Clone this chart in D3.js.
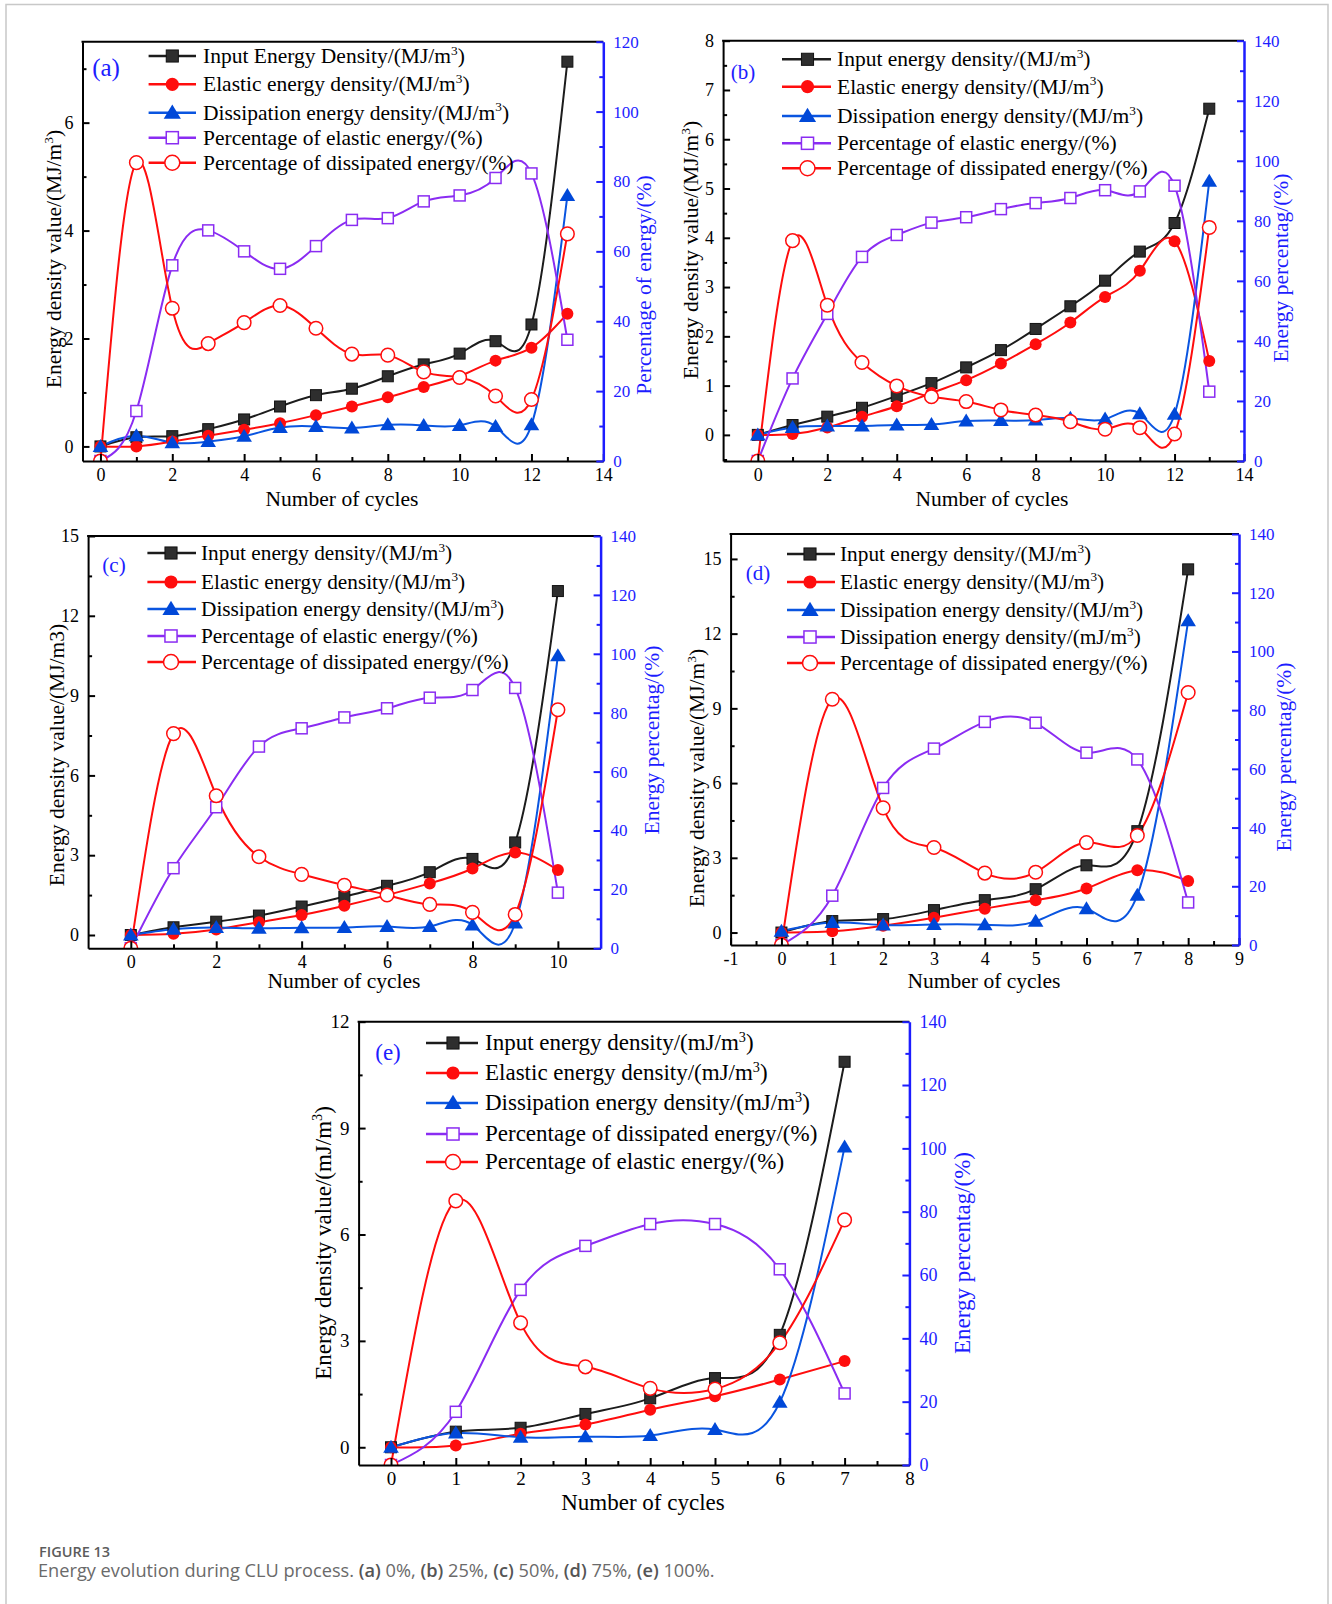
<!DOCTYPE html>
<html>
<head>
<meta charset="utf-8">
<title>Energy evolution during CLU process</title>
<script src="https://d3js.org/d3.v7.min.js"></script>
<style>
  body { margin: 0; background: #fff; }
</style>
</head>
<body>
<script>

// ---- data ----
var cyclesA = [0, 1, 2, 3, 4, 5, 6, 7, 8, 9, 10, 11, 12, 13];
var inputA = [0, 0.17, 0.19, 0.32, 0.5, 0.74, 0.95, 1.07, 1.3, 1.52, 1.72, 1.95, 2.26, 7.13];
var elasticA = [0, 0.0, 0.09, 0.2, 0.31, 0.43, 0.58, 0.74, 0.91, 1.1, 1.3, 1.59, 1.83, 2.46];
var dissA = [0, 0.2, 0.07, 0.09, 0.19, 0.35, 0.37, 0.34, 0.4, 0.39, 0.39, 0.37, 0.4, 4.65];
var pctElasticA = [0, 14.3, 56, 66, 60, 55, 61.5, 69, 69.5, 74.3, 76, 81, 82.3, 34.7];
var pctDissA = [0, 85.4, 43.7, 33.6, 39.6, 44.5, 38, 30.6, 30.3, 25.5, 23.9, 18.6, 17.6, 65];

var cyclesB = [0, 1, 2, 3, 4, 5, 6, 7, 8, 9, 10, 11, 12, 13];
var inputB = [0, 0.2, 0.37, 0.55, 0.79, 1.05, 1.37, 1.72, 2.15, 2.61, 3.13, 3.72, 4.3, 6.62];
var elasticB = [0, 0.02, 0.15, 0.37, 0.58, 0.85, 1.11, 1.45, 1.84, 2.28, 2.8, 3.33, 3.93, 1.5];
var dissB = [0, 0.15, 0.18, 0.18, 0.2, 0.21, 0.28, 0.29, 0.3, 0.34, 0.32, 0.43, 0.42, 5.15];
var pctElasticB = [0, 27.5, 49, 68, 75.3, 79.4, 81.2, 83.9, 85.9, 87.6, 90.2, 89.8, 91.7, 23.1];
var pctDissB = [0, 73.4, 51.9, 32.8, 25, 21.4, 19.8, 17, 15.3, 13.1, 10.6, 11.1, 9, 77.8];

var cyclesC = [0, 1, 2, 3, 4, 5, 6, 7, 8, 9, 10];
var inputC = [0, 0.29, 0.5, 0.73, 1.07, 1.44, 1.85, 2.36, 2.86, 3.48, 12.93];
var elasticC = [0, 0.05, 0.21, 0.48, 0.75, 1.1, 1.5, 1.94, 2.5, 3.1, 2.44];
var dissC = [0, 0.22, 0.28, 0.25, 0.27, 0.28, 0.32, 0.32, 0.38, 0.45, 10.5];
var pctElasticC = [0, 27.2, 47.9, 68.5, 74.7, 78.4, 81.5, 85.1, 87.7, 88.4, 18.9];
var pctDissC = [0, 72.9, 51.8, 31.1, 25.1, 21.4, 18.1, 14.9, 12.2, 11.5, 81];

var cyclesD = [0, 1, 2, 3, 4, 5, 6, 7, 8];
var inputD = [0, 0.46, 0.54, 0.9, 1.3, 1.74, 2.7, 4.07, 14.58];
var elasticD = [0, 0.05, 0.27, 0.59, 0.96, 1.3, 1.77, 2.5, 2.07];
var dissD = [0.05, 0.4, 0.3, 0.32, 0.31, 0.45, 0.96, 1.5, 12.52];
var pctPurpleD = [0, 16.8, 53.5, 66.9, 76, 75.7, 65.5, 63.2, 14.5];
var pctRedD = [0, 83.7, 46.7, 33.2, 24.5, 24.8, 34.9, 37.3, 86];

var cyclesE = [0, 1, 2, 3, 4, 5, 6, 7];
var inputE = [0, 0.44, 0.55, 0.94, 1.38, 1.95, 3.17, 10.87];
var elasticE = [0, 0.05, 0.38, 0.64, 1.06, 1.44, 1.91, 2.43];
var dissE = [0, 0.4, 0.28, 0.3, 0.33, 0.5, 1.27, 8.47];
var pctPurpleE = [0, 16.8, 55.3, 69.2, 76.1, 76.1, 61.8, 22.6];
var pctRedE = [0, 83.4, 44.9, 31, 24.2, 24, 38.6, 77.4];

// tick labels
var xTicksA = [0, 2, 4, 6, 8, 10, 12, 14];
var xTicksB = [0, 2, 4, 6, 8, 10, 12, 14];
var xTicksC = [0, 2, 4, 6, 8, 10];
var xTicksD = [-1, 0, 1, 2, 3, 4, 5, 6, 7, 8, 9];
var xTicksE = [0, 1, 2, 3, 4, 5, 6, 7, 8];
var yTicksA = [0, 2, 4, 6];
var yTicksB = [0, 1, 2, 3, 4, 5, 6, 7, 8];
var yTicksC = [0, 3, 6, 9, 12, 15];
var yTicksD = [0, 3, 6, 9, 12, 15];
var yTicksE = [0, 3, 6, 9, 12];
var pctTicksA = [0, 20, 40, 60, 80, 100, 120];
var pctTicks = [0, 20, 40, 60, 80, 100, 120, 140];

// legend texts
var namesA = ["Input Energy Density/(MJ/m³)", "Elastic energy density/(MJ/m³)", "Dissipation energy density/(MJ/m³)",
              "Percentage of elastic energy/(%)", "Percentage of dissipated energy/(%)"];
var namesBC = ["Input energy density/(MJ/m³)", "Elastic energy density/(MJ/m³)", "Dissipation energy density/(MJ/m³)",
               "Percentage of elastic energy/(%)", "Percentage of dissipated energy/(%)"];
var namesD = ["Input energy density/(MJ/m³)", "Elastic energy density/(MJ/m³)", "Dissipation energy density/(MJ/m³)",
              "Dissipation energy density/(mJ/m³)", "Percentage of dissipated energy/(%)"];
var namesE = ["Input energy density/(mJ/m³)", "Elastic energy density/(mJ/m³)", "Dissipation energy density/(mJ/m³)",
              "Percentage of dissipated energy/(%)", "Percentage of elastic energy/(%)"];

var BLACK = "#1c1c1c", RED = "#ff0d0d", BLUE = "#0a55e0", PURPLE = "#8a2cf2", AXBLUE = "#1d1dff";
var SERIF = "'Liberation Serif', 'Times New Roman', serif";

var styles = [
  {color: BLACK, mark: "sq", side: "L"},
  {color: RED, mark: "dot", side: "L"},
  {color: BLUE, mark: "tri", side: "L"},
  {color: PURPLE, mark: "osq", side: "R"},
  {color: RED, mark: "ocirc", side: "R"}
];

var panels = [
  {tag: "(a)", tagPos: [106, 68], tagSize: 25,
   cycles: cyclesA, vals: [inputA, elasticA, dissA, pctElasticA, pctDissA], names: namesA,
   box: {l: 82.5, r: 603.3, t: 41.7, b: 461}, xDom: [-0.5, 14], yDom: [-0.27, 7.5], pMax: 120,
   xTicks: xTicksA, yTicks: yTicksA, pTicks: pctTicksA,
   yTitle: "Energy density value/(MJ/m³)", yTitlePos: [54, 259],
   pTitle: "Percentage of energy/(%)", pTitlePos: [644, 285], xTitlePos: [342, 499],
   leg: {x0: 148.6, x1: 196, mx: 172.3, tx: 203, rows: [56, 84.3, 112.7, 137.7, 162.7], fs: 21.5}},
  {tag: "(b)", tagPos: [743, 72], tagSize: 21,
   cycles: cyclesB, vals: [inputB, elasticB, dissB, pctElasticB, pctDissB], names: namesBC,
   box: {l: 723.1, r: 1244, t: 40.7, b: 461}, xDom: [-1, 14], yDom: [-0.53, 8], pMax: 140,
   xTicks: xTicksB, yTicks: yTicksB, pTicks: pctTicks,
   yTitle: "Energy density value/(MJ/m³)", yTitlePos: [691, 250],
   pTitle: "Energy percentag/(%)", pTitlePos: [1281, 268], xTitlePos: [992, 499],
   leg: {x0: 782, x1: 831, mx: 807.5, tx: 837, rows: [59.3, 86.7, 116, 143.3, 168.3], fs: 21.5}},
  {tag: "(c)", tagPos: [114, 565], tagSize: 21,
   cycles: cyclesC, vals: [inputC, elasticC, dissC, pctElasticC, pctDissC], names: namesBC,
   box: {l: 88.1, r: 600.6, t: 536, b: 948.3}, xDom: [-1, 11], yDom: [-0.5, 15], pMax: 140,
   xTicks: xTicksC, yTicks: yTicksC, pTicks: pctTicks,
   yTitle: "Energy density value/(MJ/m3)", yTitlePos: [57, 755],
   pTitle: "Energy percentag/(%)", pTitlePos: [652, 740], xTitlePos: [344, 981],
   leg: {x0: 147.4, x1: 196, mx: 171, tx: 201, rows: [553, 582, 609, 636, 662], fs: 21.3}},
  {tag: "(d)", tagPos: [758, 573], tagSize: 21,
   cycles: cyclesD, vals: [inputD, elasticD, dissD, pctPurpleD, pctRedD], names: namesD,
   box: {l: 730.6, r: 1239, t: 534, b: 945}, xDom: [-1, 9], yDom: [-0.5, 16], pMax: 140,
   xTicks: xTicksD, yTicks: yTicksD, pTicks: pctTicks,
   yTitle: "Energy density value/(MJ/m³)", yTitlePos: [697, 778],
   pTitle: "Energy percentag/(%)", pTitlePos: [1284, 757], xTitlePos: [984, 981],
   leg: {x0: 787, x1: 835, mx: 810, tx: 840, rows: [554, 582, 610, 637, 663], fs: 21.3}},
  {tag: "(e)", tagPos: [388, 1052], tagSize: 23,
   cycles: cyclesE, vals: [inputE, elasticE, dissE, pctPurpleE, pctRedE], names: namesE,
   box: {l: 358.6, r: 909.4, t: 1021.7, b: 1465}, xDom: [-0.5, 8], yDom: [-0.5, 12], pMax: 140,
   xTicks: xTicksE, yTicks: yTicksE, pTicks: pctTicks,
   yTitle: "Energy density value/(mJ/m³)", yTitlePos: [323.5, 1243],
   pTitle: "Energy percentag/(%)", pTitlePos: [962, 1253], xTitlePos: [643, 1502],
   leg: {x0: 426, x1: 478, mx: 453, tx: 485, rows: [1043, 1073, 1103, 1134, 1162], fs: 23},
   big: true}
];

var svg = d3.select("body").append("svg")
  .attr("width", 1332)
  .attr("height", 1604);

// light frame around the figure
svg.append("path")
  .attr("d", "M6,1604 V4.5 H1328 V1604")
  .attr("fill", "none")
  .attr("stroke", "#c8c8c8")
  .attr("stroke-width", 1.5);

// text with a superscript 3
function rich(sel, str, fs) {
  var parts = str.split("³");
  parts.forEach(function(s, i) {
    if (i > 0) sel.append("tspan").attr("dy", -0.38 * fs).attr("font-size", fs * 0.62).text("3");
    var t = sel.append("tspan").text(s);
    if (i > 0) t.attr("dy", 0.38 * fs);
  });
}

function drawMark(g, kind, color, cx, cy, k) {
  k = k || 1;
  if (kind == "sq") {
    g.append("rect").attr("x", cx - 5.5 * k).attr("y", cy - 5.5 * k)
      .attr("width", 11 * k).attr("height", 11 * k)
      .attr("fill", "#2e2e2e").attr("stroke", "#111").attr("stroke-width", 1);
  } else if (kind == "dot") {
    g.append("circle").attr("cx", cx).attr("cy", cy).attr("r", 6 * k).attr("fill", color);
  } else if (kind == "tri") {
    g.append("path")
      .attr("d", "M" + cx + "," + (cy - 7.5 * k) + "L" + (cx + 7.8 * k) + "," + (cy + 5.5 * k) +
                 "L" + (cx - 7.8 * k) + "," + (cy + 5.5 * k) + "Z")
      .attr("fill", "#0048d8");
  } else if (kind == "osq") {
    g.append("rect").attr("x", cx - 5.5 * k).attr("y", cy - 5.5 * k)
      .attr("width", 11 * k).attr("height", 11 * k)
      .attr("fill", "#fff").attr("stroke", color).attr("stroke-width", 1.5);
  } else {
    g.append("circle").attr("cx", cx).attr("cy", cy).attr("r", 6.8 * k)
      .attr("fill", "#fff").attr("stroke", color).attr("stroke-width", 1.5);
  }
}

function mids(ticks, dom) {
  var step = ticks[1] - ticks[0], out = [];
  for (var v = ticks[0] - step / 2; v < dom[1]; v += step) {
    if (v > dom[0] + 1e-6 && v < dom[1] - 1e-6) out.push(v);
  }
  return out;
}

function plain(d) { return String(d); }   // keep "-1" with a hyphen like the original

function styleAxis(ax, color, fs) {
  ax.attr("font-family", SERIF).attr("font-size", fs);
  ax.select(".domain").attr("stroke", color).attr("stroke-width", color == AXBLUE ? 2.5 : 2);
  ax.selectAll(".tick line").attr("stroke", color).attr("stroke-width", 2);
  ax.selectAll(".tick text").attr("fill", color);
}

panels.forEach(function(p, pi) {
  var g = svg.append("g");
  var b = p.box;
  var x = d3.scaleLinear().domain(p.xDom).range([b.l, b.r]);
  var yL = d3.scaleLinear().domain(p.yDom).range([b.b, b.t]);
  var yR = d3.scaleLinear().domain([0, p.pMax]).range([b.b, b.t]);
  var tickFs = p.big ? 19 : 18, titleFs = p.big ? 23 : 21.5;

  var clipId = "clip" + pi;
  g.append("clipPath").attr("id", clipId).append("rect")
    .attr("x", b.l).attr("y", b.t).attr("width", b.r - b.l).attr("height", b.b - b.t);
  var plot = g.append("g").attr("clip-path", "url(#" + clipId + ")");

  // lines and markers
  p.vals.forEach(function(vals, si) {
    var st = styles[si];
    var ys = st.side == "L" ? yL : yR;
    var line = d3.line()
      .x(function(d, i) { return x(p.cycles[i]); })
      .y(function(d) { return ys(d); })
      .curve(d3.curveNatural);
    plot.append("path").datum(vals)
      .attr("d", line)
      .attr("fill", "none")
      .attr("stroke", st.color)
      .attr("stroke-width", 2);
  });
  p.vals.forEach(function(vals, si) {
    var st = styles[si];
    var ys = st.side == "L" ? yL : yR;
    var mg = plot.append("g");
    vals.forEach(function(v, i) { drawMark(mg, st.mark, st.color, x(p.cycles[i]), ys(v)); });
  });

  // axes (ticks point inward)
  var xAx = g.append("g").attr("transform", "translate(0," + b.b + ")")
    .call(d3.axisBottom(x).tickValues(p.xTicks).tickFormat(plain)
      .tickSize(-7).tickSizeOuter(0).tickPadding(7));
  styleAxis(xAx, "#000", tickFs);
  var xMin = g.append("g").attr("transform", "translate(0," + b.b + ")")
    .call(d3.axisBottom(x).tickValues(mids(p.xTicks, p.xDom)).tickSize(-4).tickFormat(""));
  xMin.select(".domain").remove();
  xMin.selectAll(".tick line").attr("stroke", "#000").attr("stroke-width", 2);

  var yAx = g.append("g").attr("transform", "translate(" + b.l + ",0)")
    .call(d3.axisLeft(yL).tickValues(p.yTicks).tickFormat(plain)
      .tickSize(-7).tickSizeOuter(0).tickPadding(9));
  styleAxis(yAx, "#000", tickFs);
  var yMin = g.append("g").attr("transform", "translate(" + b.l + ",0)")
    .call(d3.axisLeft(yL).tickValues(mids(p.yTicks, p.yDom)).tickSize(-4).tickFormat(""));
  yMin.select(".domain").remove();
  yMin.selectAll(".tick line").attr("stroke", "#000").attr("stroke-width", 2);

  g.append("line").attr("x1", b.l - 1).attr("x2", b.r).attr("y1", b.t).attr("y2", b.t)
    .attr("stroke", "#000").attr("stroke-width", 2);

  var rAx = g.append("g").attr("transform", "translate(" + b.r + ",0)")
    .call(d3.axisRight(yR).tickValues(p.pTicks).tickFormat(plain)
      .tickSize(-7).tickSizeOuter(0).tickPadding(10));
  styleAxis(rAx, AXBLUE, tickFs - 1);
  var rMin = g.append("g").attr("transform", "translate(" + b.r + ",0)")
    .call(d3.axisRight(yR).tickValues(mids(p.pTicks, [0, p.pMax])).tickSize(-4).tickFormat(""));
  rMin.select(".domain").remove();
  rMin.selectAll(".tick line").attr("stroke", AXBLUE).attr("stroke-width", 2);

  // titles
  g.append("text")
    .attr("x", p.xTitlePos[0]).attr("y", p.xTitlePos[1] + titleFs * 0.33)
    .attr("text-anchor", "middle").attr("font-family", SERIF).attr("font-size", titleFs)
    .attr("fill", "#000").text("Number of cycles");

  var yt = g.append("text")
    .attr("transform", "translate(" + (p.yTitlePos[0] + titleFs * 0.33) + "," + p.yTitlePos[1] + ") rotate(-90)")
    .attr("text-anchor", "middle").attr("font-family", SERIF).attr("font-size", titleFs).attr("fill", "#000");
  rich(yt, p.yTitle, titleFs);

  g.append("text")
    .attr("transform", "translate(" + (p.pTitlePos[0] + titleFs * 0.33) + "," + p.pTitlePos[1] + ") rotate(-90)")
    .attr("text-anchor", "middle").attr("font-family", SERIF).attr("font-size", titleFs)
    .attr("fill", AXBLUE).text(p.pTitle);

  g.append("text")
    .attr("x", p.tagPos[0]).attr("y", p.tagPos[1] + p.tagSize * 0.33)
    .attr("text-anchor", "middle").attr("font-family", SERIF).attr("font-size", p.tagSize)
    .attr("fill", AXBLUE).text(p.tag);

  // legend
  var lg = g.append("g");
  p.names.forEach(function(name, si) {
    var st = styles[si], ry = p.leg.rows[si];
    lg.append("line").attr("x1", p.leg.x0).attr("x2", p.leg.x1).attr("y1", ry).attr("y2", ry)
      .attr("stroke", st.color).attr("stroke-width", 2.5);
    drawMark(lg, st.mark, st.color, p.leg.mx, ry, 1.1);
    var t = lg.append("text")
      .attr("x", p.leg.tx).attr("y", ry + p.leg.fs * 0.32)
      .attr("font-family", SERIF).attr("font-size", p.leg.fs).attr("fill", "#000");
    rich(t, name, p.leg.fs);
  });
});

// caption
svg.append("text")
  .attr("x", 39).attr("y", 1557)
  .attr("font-family", "'Open Sans', 'Noto Sans', sans-serif")
  .attr("font-size", 14.5).attr("font-weight", 600).attr("fill", "#5c5c5c")
  .text("FIGURE 13");

var cap = svg.append("text")
  .attr("x", 38).attr("y", 1577)
  .attr("font-family", "'Open Sans', 'Noto Sans', sans-serif")
  .attr("font-size", 18.2).attr("fill", "#6a6a6a");
var capParts = [["Energy evolution during CLU process. ", 400], ["(a)", 600], [" 0%, ", 400], ["(b)", 600],
                [" 25%, ", 400], ["(c)", 600], [" 50%, ", 400], ["(d)", 600], [" 75%, ", 400],
                ["(e)", 600], [" 100%.", 400]];
capParts.forEach(function(c) {
  cap.append("tspan").attr("font-weight", c[1]).attr("fill", c[1] == 600 ? "#555" : "#6a6a6a").text(c[0]);
});

</script>
</body>
</html>
